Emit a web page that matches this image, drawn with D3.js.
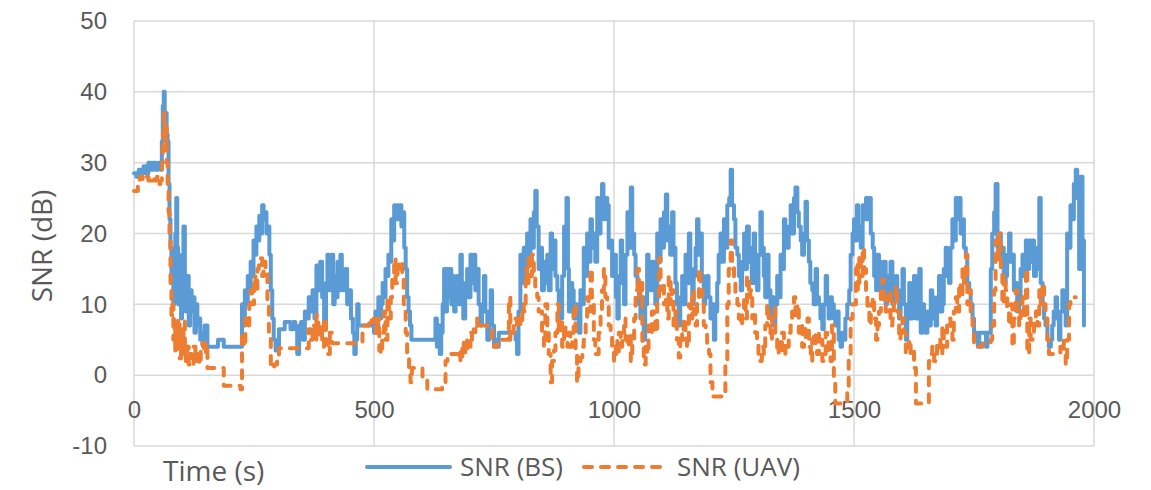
<!DOCTYPE html>
<html>
<head>
<meta charset="utf-8">
<script src="https://cdn.jsdelivr.net/npm/d3@7"></script>
<style>
  body { margin: 0; background: #fff; }
  svg { font-family: "Segoe UI", "Open Sans", sans-serif; }
  .tick-label { fill: #595959; font-size: 24px; }
  .axis-title { fill: #595959; font-size: 28px; }
  .legend-label { fill: #595959; font-size: 26px; }
</style>
</head>
<body>
<svg id="chart"></svg>
<script>
// SNR (BS) readings: time (s) and value (dB)
const bsTime = [0,5,10,15,20,25,30,35,40,45,50,55,58,60,62,64,66,68,70,72,74,76,78,80,82,84,86,88,90,92,95,98,100,103,106,108,111,114,117,120,123,126,129,132,135,138,141,144,147,150,153,156,160,165,170,175,183,187,195,205,215,222,225,228,231,234,237,240,243,246,249,252,255,258,261,264,267,270,273,276,279,282,285,288,291,295,299,302,308,314,320,326,332,336,340,344,348,352,356,360,364,368,372,376,380,384,388,392,396,400,403,406,409,412,415,418,421,424,427,430,433,436,440,444,448,452,456,459,462,465,468,475,485,495,500,503,506,509,512,515,518,521,524,527,530,533,536,539,542,545,548,551,554,557,560,563,566,569,572,575,578,581,590,600,610,620,625,628,631,634,637,640,643,646,649,652,655,658,661,664,667,670,673,676,680,683,686,690,694,697,701,704,708,711,715,718,722,725,729,732,736,740,743,746,750,754,757,760,770,780,791,795,798,801,805,808,812,815,819,822,826,829,833,836,839,843,846,850,854,857,861,864,868,871,875,878,882,885,889,892,896,899,901,904,906,909,913,916,920,923,927,930,934,937,940,944,947,951,954,958,961,965,968,972,975,978,982,986,989,993,996,1000,1004,1007,1010,1014,1017,1021,1024,1028,1031,1035,1038,1042,1045,1049,1052,1055,1058,1062,1065,1069,1072,1076,1079,1083,1086,1090,1093,1097,1100,1104,1108,1111,1114,1117,1121,1124,1128,1131,1135,1138,1142,1145,1149,1152,1156,1159,1163,1166,1170,1173,1176,1180,1183,1187,1190,1194,1197,1201,1204,1208,1211,1215,1218,1222,1225,1229,1232,1236,1240,1243,1246,1250,1253,1257,1260,1264,1267,1271,1274,1277,1281,1284,1287,1291,1294,1298,1301,1305,1308,1312,1315,1319,1322,1326,1329,1333,1336,1340,1343,1347,1350,1354,1357,1361,1364,1368,1371,1375,1378,1382,1385,1389,1392,1396,1399,1402,1406,1409,1413,1416,1420,1423,1427,1430,1434,1437,1441,1444,1447,1451,1454,1458,1461,1465,1468,1472,1475,1479,1482,1486,1490,1493,1497,1500,1503,1506,1509,1511,1514,1518,1521,1525,1528,1532,1535,1539,1542,1546,1549,1552,1556,1559,1562,1566,1569,1573,1576,1580,1583,1587,1590,1594,1597,1601,1604,1608,1611,1615,1618,1622,1625,1629,1632,1636,1639,1643,1646,1650,1653,1656,1660,1663,1667,1670,1673,1677,1680,1684,1687,1691,1694,1698,1701,1705,1708,1712,1715,1719,1722,1726,1729,1733,1736,1740,1743,1747,1750,1754,1758,1761,1770,1775,1778,1781,1785,1788,1792,1795,1799,1802,1806,1809,1812,1816,1819,1823,1826,1830,1833,1837,1840,1844,1847,1851,1854,1858,1861,1865,1868,1872,1875,1879,1882,1886,1889,1893,1896,1899,1903,1906,1910,1913,1916,1920,1923,1927,1930,1934,1937,1941,1944,1948,1951,1955,1958,1962,1965,1969,1972,1976,1979];
const bsSnr = [28.5,28,29,28.5,29.5,28.5,30,29,30,29,30,29,33,38,40,36,37,34,33,27,22,18,13,15,10,14,20,25,18,10,14,8,17,21,12,9,14,7,12,9,11,6,10,7,8,5,6,4,7,7,4,4,4,4,4,5,5,4,4,4,4,4,10,7,12,10,14,12,16,14,19,17,21,19,22.5,20,24,22,23,20,21,17,12,8,5,3.5,4,6.5,6.5,7.5,7.5,6.5,7.5,6.5,3,7,7.5,5,9,8,11,9,12,8,15.5,12,16,11,7,13,17,12,16,17,10,14,11,16,12,17,14,12,15,10,12,8,6,3,5,10,7,7,7,7,6,9,6,11,8,10,13,11,15,14,17,16,22,19,24,22,24,22,24,21,23,18,15,11,9,7,5,5,5,5,5,5,5,8,4,7,3,6,10,15,9,15,11,15,10,14,9,12,14,10,17,12,8,13,15,11,17,13,17,12,15,10,7,10,14,9,5,9,12,7,4,5,4,6,6,6,6,5,3,9,17,13,18,14,20,16,22,18,23,26,21,15,18,12,16,13,17,12,20,15,19,14,12,10,8,14,21,18,25,15,9,13,12,8,10,8,6,12,10,18,14,20,16,22,18,20,16,25,20,24,27,22,25,24,18,19,14,17,11,8,14,19,13,10,17,23,18,26.5,20,17,14,13,10,8,11,5,10,17,13,12,16,14,10,20,16,22,18,23,25.5,19,21,17,23,18,13,10,7,11,14,10,17,13,20,15,10,14,18,22,17,20,14,10,12,14,11,8,10,5,9,13,17,20,16,22,18,24,25,29,24,22,18,17,14,12,16,20,15,21,16,18,13,20,16,12,17,23,18,14,11,17,12,8,11,7,10,14,11,17,15,22,18,18,21,24,20,25,26.5,23,21,19,17,20,24.5,19,16,13,12,10,15,11,10,8,6.5,10,14,10,8,11,10,8,7,9,5,4,6,5,8,10,12,17,20,22,19,24,21,21,18,24,22,25,22,25,20,18,14,12,17,16,11,13,16,10,14,12,16,10,13,14,11,8,12,15,10,5,9,13,8,10,14,8,11,15,6,10,8,6,9,7,12,11,8,7,11,14,9,10,15,18,14,13,18,22,19,25,22,25,20,22,18,17,13,12,10,8,6,6,4,6,6,4,6,6,15,20,23,27,18,20,16,18,13,14,17,20,16,17,12,13,9,10,15,17,14,19,15,19,16,19,14,15,18,25,13,10,8,7,5,4,5,7,9,11,8,5,9,12,9,7,20,18,24,22,27,29,25,15,28,19,7];

// SNR (UAV) readings: time (s) and value (dB)
const uavTime = [0,5,8,12,18,24,30,36,42,48,52,55,58,60,62,64,66,68,70,72,74,76,78,80,82,84,86,88,90,92,95,98,100,103,106,108,111,114,117,120,124,128,132,136,139,142,146,150,153,160,170,180,187,195,205,215,222,225,229,232,236,240,243,246,250,253,257,260,264,267,270,274,278,281,285,289,292,298,302,310,320,330,340,350,361,364,368,372,376,380,384,388,392,396,400,404,408,412,420,430,440,450,460,472,476,485,490,495,500,504,508,511,514,517,521,524,528,531,535,538,542,545,549,552,556,559,562,566,569,573,576,579,583,590,597,601,604,611,620,628,635,642,646,649,653,660,667,673,676,680,684,687,690,694,698,701,704,708,711,715,718,722,729,736,743,746,750,753,757,764,771,778,781,784,788,791,795,798,801,805,809,812,816,819,822,826,829,833,836,840,843,847,850,854,857,861,864,868,871,875,878,882,885,889,892,896,899,903,906,909,913,916,920,923,926,930,934,937,941,944,947,951,954,958,961,965,968,972,975,979,982,986,989,993,996,1000,1004,1007,1010,1014,1017,1021,1024,1028,1031,1035,1038,1042,1045,1049,1052,1055,1059,1062,1066,1069,1072,1076,1079,1083,1086,1090,1094,1097,1101,1104,1108,1111,1114,1118,1121,1124,1128,1131,1135,1138,1142,1145,1149,1152,1156,1159,1163,1166,1170,1173,1177,1180,1184,1187,1191,1194,1198,1201,1205,1210,1220,1229,1232,1236,1239,1243,1246,1250,1253,1257,1260,1264,1267,1271,1274,1277,1281,1284,1288,1291,1294,1298,1301,1305,1308,1312,1315,1319,1322,1326,1329,1333,1336,1340,1343,1347,1350,1354,1357,1361,1364,1368,1371,1375,1378,1382,1385,1389,1392,1396,1399,1403,1406,1410,1413,1416,1420,1423,1427,1430,1434,1437,1441,1444,1447,1451,1454,1458,1461,1470,1479,1486,1489,1493,1497,1500,1504,1506,1508,1511,1514,1518,1521,1525,1528,1532,1535,1539,1542,1546,1549,1552,1556,1559,1562,1566,1569,1573,1576,1580,1583,1587,1590,1594,1597,1601,1604,1608,1611,1615,1618,1622,1625,1629,1636,1645,1653,1656,1660,1663,1667,1670,1673,1677,1680,1684,1687,1691,1694,1698,1701,1705,1708,1712,1715,1719,1722,1726,1729,1733,1736,1740,1743,1747,1750,1754,1761,1768,1775,1781,1785,1788,1792,1795,1799,1802,1806,1809,1812,1816,1819,1823,1826,1830,1833,1837,1840,1844,1847,1851,1854,1858,1861,1865,1868,1872,1875,1879,1882,1886,1889,1893,1896,1899,1903,1906,1913,1920,1927,1930,1934,1937,1941,1944,1948,1951,1956,1962];
const uavSnr = [26,26,27,28,27.5,28,27.5,28,27.5,28,27,27.5,30,34,37,33,35,30,27,23,20,12,8.5,10,5,8,3,7.5,4.3,8,2.4,6,3,7.6,4,2,4,1.5,3,1.5,4,2,3.5,1.5,4,4.5,3,4.5,1,1,1,1,-1.5,-1.5,-1.5,-1.5,-2,6,4,8,7,10,12,10,14,12,15,16,16.5,14,16,15,10,5.5,1.5,1,1.5,2.5,3.8,3.8,3.8,3.8,3.8,3.8,3.8,6.5,5,7,5,8.5,5.5,7,4,8,5,3,6,4.5,4.5,4.5,4.5,4.5,4.5,4.5,7,7,8,7.5,8,6,8,3.5,3,6,9,5,11,8,11,14,16.5,13,16,15,16,14,10,6,3,1,-1,1,1,1,1,-0.5,-0.5,-2,-2,-2,-2,-1.5,-1.5,2,3,3,3,3,2,4,2.5,5,3,5,4,6,5,6.5,6,8,7,7,7,7,7,5,4,4,4.5,5,5,5,11,5,6,7,8,7,8,7,10,9,15,13,17,14,17,14,12,11,9,9,6,4,10,7,3,-1,2,3.5,6,10,6,8,4,7,5,4,6,4,6,10,3,-1,1,2.5,4,5,8,11,9,15,10,5,3,3,6,9,12,15,11,10,7,6,4,2,5,3,6,4,6,8,5,4,6,2,5,8,12,15,11,13,4,1.5,4,3,7,6,9,8,6,11,16.5,12,13,10,11,8,14,10,12,7,9,5,2.5,6,5,8,6,4,10,8,12,9,7,11,15,12,10,7,6,4,3,-1,-3,-3,-3,-3,2,10,15,19,16,13,11,10,8,7,9,11,8,14,11,12,8,9,6,5,3,2,4,3,7,10,7,5,8,9.5,5,3,5,3,6,5,3,4,6,7,9,11,8,10,6,7,4,5,7,8,4,2,5,6,4,3,6,5,2,3,6,5,3,2,7,-1,-4,-4,-4,-2,3,8,10,10,15,16,12,17,14,18,15,12,9,7,10,11,8,5,7,9,12,13.5,10,9,11,12,7,8,11,12.5,9,5,7,8,6,3,4,5,3,3.5,1,-4,-4,-4,-4,2,3,4,2,3,5,5,3,7,5,4,7,8,6,5,9,11,9,13,11,15,13,17,10,12,9,7,4,4,4,4.5,4.5,4.5,5,7,12,19,16,20,15,10,14,12,9,7,10,4,8,12,9,7,9,11,8,15,3,8,5,6,8,9,7,12,10,13,10,8,5,3,3,3,3,4,5,3,1.5,5,10,11,11,11];

const xTicks = [0, 500, 1000, 1500, 2000];
const yTicks = [-10, 0, 10, 20, 30, 40, 50];
const seriesNames = ["SNR (BS)", "SNR (UAV)"];
const seriesColors = ["#5B9BD5", "#ED7D31"];

const width = 1151, height = 490;
const margin = { top: 21, right: 57, bottom: 44, left: 134 };
const innerW = width - margin.left - margin.right;
const innerH = height - margin.top - margin.bottom;

const svg = d3.select("#chart")
  .attr("width", width)
  .attr("height", height);

const g = svg.append("g")
  .attr("transform", `translate(${margin.left},${margin.top})`);

const x = d3.scaleLinear().domain([0, 2000]).range([0, innerW]);
const y = d3.scaleLinear().domain([-10, 50]).range([innerH, 0]);

// Gridlines
g.append("g")
  .selectAll("line")
  .data(yTicks)
  .join("line")
  .attr("x1", 0)
  .attr("x2", innerW)
  .attr("y1", d => y(d))
  .attr("y2", d => y(d))
  .attr("stroke", "#d9d9d9")
  .attr("stroke-width", 1.5);

g.append("g")
  .selectAll("line")
  .data(xTicks)
  .join("line")
  .attr("x1", d => x(d))
  .attr("x2", d => x(d))
  .attr("y1", 0)
  .attr("y2", innerH)
  .attr("stroke", "#d9d9d9")
  .attr("stroke-width", 1.5);

// Y axis labels (plain hyphen for negatives, like the original)
const yAxis = g.append("g")
  .call(d3.axisLeft(y).tickValues(yTicks).tickSize(0).tickPadding(27).tickFormat(d => String(d)));
yAxis.select(".domain").remove();
yAxis.selectAll("text").attr("class", "tick-label").attr("font-size", null).attr("font-family", null);

// X axis labels (axis crosses at 0)
const xAxis = g.append("g")
  .attr("transform", `translate(0,${y(0)})`)
  .call(d3.axisBottom(x).tickValues(xTicks).tickSize(0).tickPadding(26).tickFormat(d => String(d)));
xAxis.select(".domain").remove();
xAxis.selectAll("text").attr("class", "tick-label").attr("font-size", null).attr("font-family", null);

// Series lines
const series = [
  { name: seriesNames[0], data: bsTime.map((t, i) => [t, bsSnr[i]]), color: seriesColors[0], dash: null },
  { name: seriesNames[1], data: uavTime.map((t, i) => [t, uavSnr[i]]), color: seriesColors[1], dash: "8,9" }
];

const line = d3.line()
  .x(d => x(d[0]))
  .y(d => y(d[1]))
  .curve(d3.curveStepAfter);

g.selectAll("path.series")
  .data(series)
  .join("path")
  .attr("class", "series")
  .attr("d", d => line(d.data))
  .attr("fill", "none")
  .attr("stroke", d => d.color)
  .attr("stroke-width", 4)
  .attr("stroke-linejoin", "round")
  .attr("stroke-linecap", "round")
  .attr("stroke-dasharray", d => d.dash);

// Axis titles
svg.append("text")
  .attr("class", "axis-title")
  .attr("transform", `translate(52,246) rotate(-90)`)
  .attr("text-anchor", "middle")
  .text("SNR (dB)");

svg.append("text")
  .attr("class", "axis-title")
  .attr("x", 163)
  .attr("y", 481)
  .text("Time (s)");

// Legend
const legendX = [365, 582];
const legend = svg.append("g")
  .selectAll("g")
  .data(series)
  .join("g")
  .attr("transform", (d, i) => `translate(${legendX[i]},467)`);

legend.append("line")
  .attr("x1", 2)
  .attr("x2", 85)
  .attr("stroke", d => d.color)
  .attr("stroke-width", 4)
  .attr("stroke-linecap", "round")
  .attr("stroke-dasharray", d => d.dash);

legend.append("text")
  .attr("class", "legend-label")
  .attr("x", 95)
  .attr("y", 9)
  .text(d => d.name);
</script>
</body>
</html>
